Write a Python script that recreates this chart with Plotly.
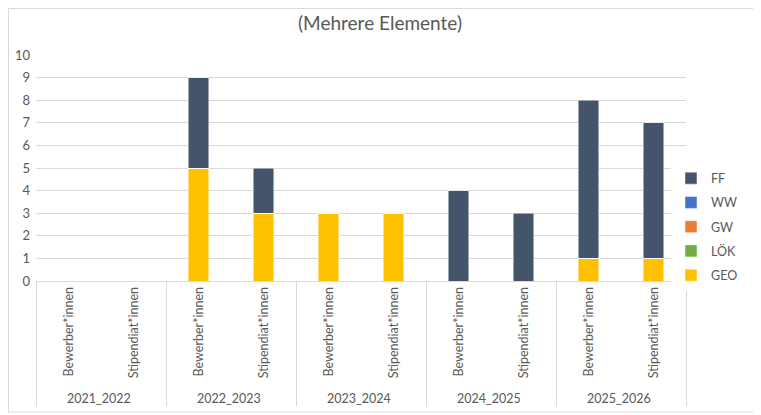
import plotly.graph_objects as go

# Kategorien (zweistufige x-Achse)
jahre = ["2021_2022", "2021_2022", "2022_2023", "2022_2023", "2023_2024",
         "2023_2024", "2024_2025", "2024_2025", "2025_2026", "2025_2026"]
gruppen = ["Bewerber*innen", "Stipendiat*innen"] * 5

# Werte je Fachbereich
geo = [0, 0, 5, 3, 3, 3, 0, 0, 1, 1]
loek = [0, 0, 0, 0, 0, 0, 0, 0, 0, 0]
gw = [0, 0, 0, 0, 0, 0, 0, 0, 0, 0]
ww = [0, 0, 0, 0, 0, 0, 0, 0, 0, 0]
ff = [0, 0, 4, 2, 0, 0, 4, 3, 7, 6]

y_ticks = list(range(0, 11))

serien = [("GEO", geo, "#FFC000"), ("LÖK", loek, "#70AD47"),
          ("GW", gw, "#ED7D31"), ("WW", ww, "#4472C4"), ("FF", ff, "#44546A")]

fig = go.Figure()
for i, (name, werte, farbe) in enumerate(serien):
    fig.add_trace(go.Bar(
        x=[jahre, gruppen], y=werte, name=name, legendgroup=name,
        legendrank=1000 - i,  # FF on top in the legend
        marker=dict(color=farbe, line=dict(color="rgba(255,255,255,0.6)", width=0.8)),
    ))

# the page body has an 8px margin, so everything is laid out 8px up/left
W, H = 753, 407
ml, mr, mt, mb = 28, 5, 47, 134
pw, ph = W - ml - mr, H - mt - mb
plot_w = 650

fig.update_layout(
    width=W, height=H,
    margin=dict(l=ml, r=mr, t=mt, b=mb),
    barmode="stack", bargap=0.69,
    paper_bgcolor="white", plot_bgcolor="white",
    font=dict(family="Lato, Open Sans, sans-serif", size=12, color="#595959"),
    title=dict(text="(Mehrere Elemente)", x=372 / W, xanchor="center",
               y=1 - 15 / H, yanchor="middle",
               font=dict(size=19, color="#595959")),
    legend=dict(traceorder="grouped", x=(663 - ml) / pw, xanchor="left",
                y=(ph - (219 - mt)) / ph, yanchor="middle",
                font=dict(size=12.5, color="#595959"), itemwidth=30, tracegroupgap=5),
    showlegend=True,
    shapes=[dict(type="rect", xref="paper", yref="paper",
                 x0=(0.5 - ml) / pw, x1=(749 - ml) / pw,
                 y0=(mt + ph - 404) / ph, y1=(mt + ph - 0.5) / ph,
                 line=dict(color="#D9D9D9", width=1), fillcolor="rgba(0,0,0,0)", layer="below")],
)

fig.update_xaxes(
    type="multicategory", domain=[0, plot_w / pw], tickangle=-90,
    showline=True, linecolor="#D9D9D9",
    showdividers=True, dividercolor="#D9D9D9", dividerwidth=1,
    tickfont=dict(size=12.5, color="#595959"), ticks="",
)
fig.update_yaxes(
    range=[0, 10], tickvals=y_ticks, showgrid=True, gridcolor="#D9D9D9",
    zeroline=False, tickfont=dict(size=13, color="#595959"), ticks="",
    ticklabelstandoff=5,
)

fig.write_html("out.html")
